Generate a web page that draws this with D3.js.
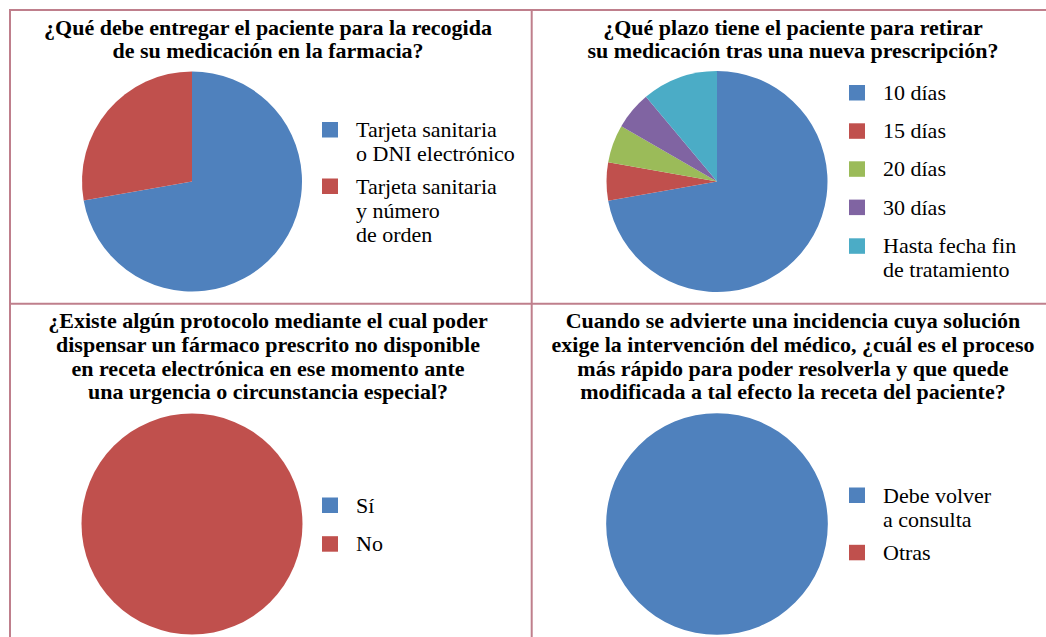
<!DOCTYPE html>
<html>
<head>
<meta charset="utf-8">
<script src="https://cdn.jsdelivr.net/npm/d3@7"></script>
<style>
  html, body { margin: 0; padding: 0; background: #fff; }
  svg { display: block; }
</style>
</head>
<body>
<svg id="chart" width="1046" height="637"></svg>
<script>
// ---- Data ----
const palette = ["#4f81bd", "#c0504d", "#9bbb59", "#8064a2", "#4bacc6"];

const q1Title = ["¿Qué debe entregar el paciente para la recogida", "de su medicación en la farmacia?"];
const q1Labels = [["Tarjeta sanitaria", "o DNI electrónico"], ["Tarjeta sanitaria", "y número", "de orden"]];
const q1Values = [26, 10];

const q2Title = ["¿Qué plazo tiene el paciente para retirar", "su medicación tras una nueva prescripción?"];
const q2Labels = [["10 días"], ["15 días"], ["20 días"], ["30 días"], ["Hasta fecha fin", "de tratamiento"]];
const q2Values = [26, 2, 2, 2, 4];

const q3Title = ["¿Existe algún protocolo mediante el cual poder", "dispensar un fármaco prescrito no disponible", "en receta electrónica en ese momento ante", "una urgencia o circunstancia especial?"];
const q3Labels = [["Sí"], ["No"]];
const q3Values = [0, 36];

const q4Title = ["Cuando se advierte una incidencia cuya solución", "exige la intervención del médico, ¿cuál es el proceso", "más rápido para poder resolverla y que quede", "modificada a tal efecto la receta del paciente?"];
const q4Labels = [["Debe volver", "a consulta"], ["Otras"]];
const q4Values = [36, 0];

// ---- Layout ----
const panels = [
  { title: q1Title, labels: q1Labels, values: q1Values, tx: 268, ty: 34.5, cx: 192, cy: 181.5, r: 110,
    lx: 322, itemTops: [122, 178.5], textX: 356 },
  { title: q2Title, labels: q2Labels, values: q2Values, tx: 793, ty: 34.5, cx: 717, cy: 181.5, r: 110.5,
    lx: 849, itemTops: [85, 123.3, 161.3, 199.6, 238.3], textX: 883 },
  { title: q3Title, labels: q3Labels, values: q3Values, tx: 268, ty: 328.3, cx: 192, cy: 524, r: 110.5,
    lx: 322, itemTops: [497.5, 536.2], textX: 356 },
  { title: q4Title, labels: q4Labels, values: q4Values, tx: 793, ty: 328.3, cx: 717, cy: 524, r: 110.8,
    lx: 849, itemTops: [487.5, 544.8], textX: 883 }
];

const svg = d3.select("#chart");

// Borders
const borderColor = "#bf7f8c";
const borders = [
  [9, 10, 1046, 10], [10, 9, 10, 637], [531.7, 9, 531.7, 637], [9, 303.7, 1046, 303.7]
];
svg.selectAll("line.border").data(borders).join("line")
  .attr("class", "border")
  .attr("x1", d => d[0]).attr("y1", d => d[1]).attr("x2", d => d[2]).attr("y2", d => d[3])
  .attr("stroke", borderColor).attr("stroke-width", 2);

const pie = d3.pie().sort(null).value(d => d);
const lineH = 23.7;

panels.forEach(p => {
  const g = svg.append("g");
  // Title
  const title = g.append("text")
    .attr("x", p.tx).attr("y", p.ty)
    .attr("text-anchor", "middle")
    .attr("font-family", "Liberation Serif")
    .attr("font-size", 22).attr("font-weight", "bold")
    .attr("fill", "#000");
  p.title.forEach((line, i) => {
    title.append("tspan").attr("x", p.tx).attr("y", p.ty + i * lineH).text(line);
  });

  // Pie
  const arc = d3.arc().innerRadius(0).outerRadius(p.r);
  g.append("g").attr("transform", `translate(${p.cx},${p.cy})`)
    .selectAll("path").data(pie(p.values)).join("path")
    .attr("d", arc)
    .attr("fill", (d, i) => palette[i]);

  // Legend
  const leg = g.append("g");
  p.labels.forEach((lines, i) => {
    const top = p.itemTops[i];
    leg.append("rect").attr("x", p.lx).attr("y", top).attr("width", 16).attr("height", 15.5)
      .attr("fill", palette[i]);
    const t = leg.append("text").attr("x", p.textX).attr("y", top + 15)
      .attr("font-family", "Liberation Serif")
      .attr("font-size", 22)
      .attr("fill", "#000");
    lines.forEach((ln, j) => {
      t.append("tspan").attr("x", p.textX).attr("y", top + 15 + j * 24).text(ln);
    });
  });
});
</script>
</body>
</html>
